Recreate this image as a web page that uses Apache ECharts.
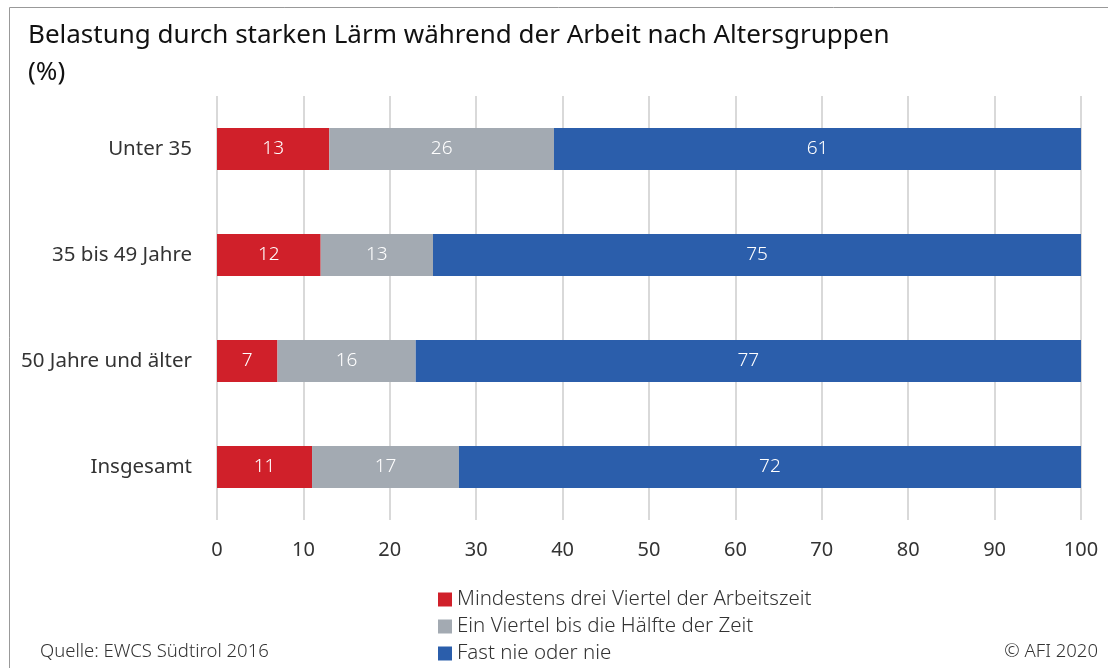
<!DOCTYPE html>
<html><head><meta charset="utf-8">
<script src="https://cdn.jsdelivr.net/npm/echarts@6/dist/echarts.min.js"></script>
<style>html,body{margin:0;padding:0;background:#fff}#c{width:1108px;height:668px}</style>
</head><body><div id="c"></div>
<script>
const categories = ["Unter 35", "35 bis 49 Jahre", "50 Jahre und älter", "Insgesamt"];
const seriesNames = ["Mindestens drei Viertel der Arbeitszeit", "Ein Viertel bis die Hälfte der Zeit", "Fast nie oder nie"];
const valsRed = [13, 12, 7, 11];
const valsGray = [26, 13, 16, 17];
const valsBlue = [61, 75, 77, 72];
const colors = ["#D0202A", "#A3AAB2", "#2B5EAB"];
const FONT = "'Noto Sans', sans-serif";

const chart = echarts.init(document.getElementById('c'), null, {renderer: 'canvas'});
const mk = (name, data, color) => ({
  name, type: 'bar', stack: 'a', data, barWidth: 42,
  itemStyle: {color},
  label: {show: true, position: 'inside', color: '#fff', fontFamily: FONT, fontSize: 19, fontWeight: 300},
  emphasis: {disabled: true}
});
chart.setOption({
  animation: false,
  textStyle: {fontFamily: FONT},
  title: {
    text: 'Belastung durch starken Lärm während der Arbeit nach Altersgruppen\n(%)',
    left: 23, top: 12,
    textStyle: {fontFamily: FONT, fontSize: 26, fontWeight: 'normal', color: '#111', lineHeight: 37}
  },
  legend: {
    orient: 'vertical', left: 433, top: 584, height: 120, itemGap: 6,
    itemWidth: 14, itemHeight: 14, icon: 'rect',
    textStyle: {fontFamily: FONT, fontSize: 20.5, color: '#333', fontWeight: 300, padding: [0,0,0,0]},
    data: seriesNames
  },
  grid: {left: 217, right: 27, top: 96, bottom: 148, containLabel: false},
  xAxis: {
    type: 'value', min: 0, max: 100, interval: 10,
    axisLine: {show: false}, axisTick: {show: false},
    splitLine: {lineStyle: {color: '#D9D9D9', width: 2}},
    axisLabel: {fontFamily: FONT, fontSize: 20, color: '#333', margin: 20}
  },
  yAxis: {
    type: 'category', data: categories, inverse: true,
    axisLine: {show: false}, axisTick: {show: false},
    axisLabel: {fontFamily: FONT, fontSize: 20.5, color: '#333', margin: 25}
  },
  series: [mk(seriesNames[0], valsRed, colors[0]), mk(seriesNames[1], valsGray, colors[1]), mk(seriesNames[2], valsBlue, colors[2])],
  graphic: [
    {type: 'line', shape: {x1: 9.5, y1: 7.5, x2: 1108, y2: 7.5}, style: {stroke: '#999', lineWidth: 1}},
    {type: 'line', shape: {x1: 9.5, y1: 7.5, x2: 9.5, y2: 668}, style: {stroke: '#999', lineWidth: 1}},
    {type: 'text', left: 40, top: 642, style: {text: 'Quelle: EWCS Südtirol 2016', font: "300 18.5px 'Noto Sans', sans-serif", fill: '#333'}},
    {type: 'text', right: 10, top: 642, style: {text: '© AFI 2020', font: "300 18.5px 'Noto Sans', sans-serif", fill: '#333'}}
  ]
});
</script></body></html>
